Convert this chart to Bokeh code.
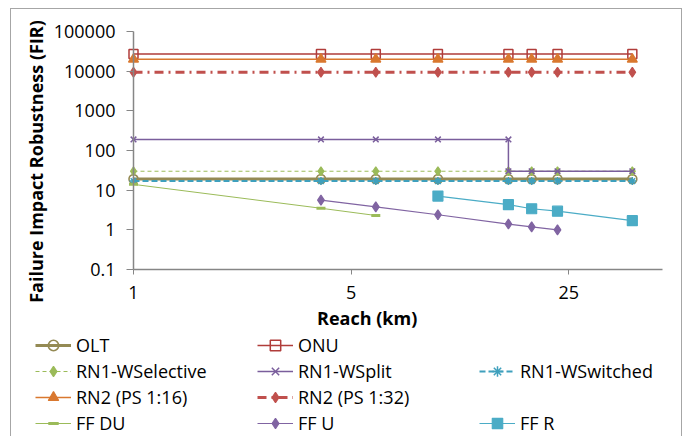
import math
from bokeh.plotting import figure
from bokeh.models import (Range1d, FixedTicker, Legend, LegendItem, Label, ColumnDataSource)
from bokeh.embed import file_html
from bokeh.resources import INLINE

# ---------------- data ----------------
reach = [1, 4, 6, 9.5, 16, 19, 23, 40]
olt = [19] * 8
onu = [27000] * 8
rn1_wselective = [30] * 8
rn1_wsplit_x = [1, 4, 6, 9.5, 16, 16, 19, 23, 40]
rn1_wsplit = [190, 190, 190, 190, 190, 30, 30, 30, 30]
rn1_wswitched = [17] * 8
rn2_ps16 = [20000] * 8
rn2_ps32 = [9400] * 8
ff_du_x = [1, 4, 6]
ff_du = [14, 3.5, 2.3]
ff_u_x = [4, 6, 9.5, 16, 19, 23]
ff_u = [5.6, 3.8, 2.4, 1.4, 1.19, 1.0]
ff_r_x = [9.5, 16, 19, 23, 40]
ff_r = [7.1, 4.3, 3.4, 2.95, 1.7]

x_ticks = [1, 5, 25]
y_ticks = [0.1, 1, 10, 100, 1000, 10000, 100000]
y_tick_labels = ["0.1", "1", "10", "100", "1000", "10000", "100000"]
x_axis_min, x_axis_max = 1, 50
y_axis_min, y_axis_max = 0.1, 100000

FONT = "Open Sans"

# ---- layout geometry (canvas pixels) ----
W, H = 670, 427
PLOT_L, PLOT_R, PLOT_T, PLOT_B = 122, 651, 22, 260
kx = (PLOT_R - PLOT_L) / math.log(x_axis_max / x_axis_min)
ky = (PLOT_B - PLOT_T) / math.log(y_axis_max / y_axis_min)
x_range = Range1d(x_axis_min * math.exp(-PLOT_L / kx), x_axis_min * math.exp((W - PLOT_L) / kx))
y_range = Range1d(y_axis_min * math.exp(-(H - PLOT_B) / ky), y_axis_min * math.exp(PLOT_B / ky))

p = figure(width=W, height=H, frame_width=W, frame_height=H,
           x_axis_type="log", y_axis_type="log",
           x_range=x_range, y_range=y_range,
           output_backend="svg", toolbar_location=None,
           min_border_left=0, min_border_right=0, min_border_top=0, min_border_bottom=0)
p.styles = {"border": "1px solid #a6a6a6", "margin-left": "10px", "margin-top": "8px"}
p.outline_line_color = None
p.grid.visible = False
p.background_fill_color = "white"
p.border_fill_color = "white"

for ax in (p.xaxis[0], p.yaxis[0]):
    ax.axis_line_color = "#868686"
    ax.axis_line_width = 1.5
    ax.major_tick_line_color = "#868686"
    ax.major_tick_line_width = 1
    ax.minor_tick_line_color = None
    ax.major_tick_in = 0
    ax.major_label_text_font = FONT
    ax.major_label_text_font_size = "18px"
    ax.major_label_text_color = "black"

p.xaxis.fixed_location = y_axis_min
p.xaxis.bounds = (x_axis_min, x_axis_max)
p.xaxis.ticker = FixedTicker(ticks=x_ticks, minor_ticks=[])
p.xaxis.major_label_overrides = {t: str(t) for t in x_ticks}
p.xaxis.major_tick_out = 5
p.xaxis.major_label_standoff = 11
p.yaxis.fixed_location = x_axis_min
p.yaxis.bounds = (y_axis_min, y_axis_max)
p.yaxis.ticker = FixedTicker(ticks=y_ticks, minor_ticks=[])
p.yaxis.major_label_overrides = dict(zip(y_ticks, y_tick_labels))
p.yaxis.major_tick_out = 7
p.yaxis.major_label_standoff = 11

def series(x, y, color, width, dash, marker, msize, mfill, mline=1.2):
    src = ColumnDataSource(dict(x=x, y=y))
    r1 = p.line("x", "y", source=src, line_color=color, line_width=width, line_dash=dash)
    r2 = p.scatter("x", "y", source=src, marker=marker, size=msize, line_color=color,
                   fill_color=mfill, line_width=mline)
    return [r1, r2]

items = {}
items["OLT"] = series(reach, olt, "#948a54", 3, "solid", "circle", 9, None, 1.6)
items["ONU"] = series(reach, onu, "#b03c3a", 1.5, "solid", "square", 9, None, 1.5)
items["RN1-WSelective"] = series(reach, rn1_wselective, "#9bbb59", 1, "4 3", "diamond", 9, "#9bbb59")
items["RN1-WSplit"] = series(rn1_wsplit_x, rn1_wsplit, "#7a5e9c", 1.5, "solid", "x", 8, None, 1.5)
items["RN1-WSwitched"] = series(reach, rn1_wswitched, "#3fa0bd", 2, "6 3", "asterisk", 8, None, 1.5)
items["RN2 (PS 1:16)"] = series(reach, rn2_ps16, "#d9782f", 1.5, "solid", "triangle", 10, "#d9782f")
items["RN2 (PS 1:32)"] = series(reach, rn2_ps32, "#c0504d", 3, "9 5 2 5", "diamond", 10, "#c0504d")
items["FF DU"] = series(ff_du_x, ff_du, "#9bbb59", 1, "solid", "dash", 9, "#9bbb59", 3)
items["FF U"] = series(ff_u_x, ff_u, "#8064a2", 1.2, "solid", "diamond", 10, "#8064a2")
items["FF R"] = series(ff_r_x, ff_r, "#4bacc6", 1.2, "solid", "square", 10, "#4bacc6")

# invisible placeholders for the empty legend cells
blank1 = p.line(x=reach[:1], y=olt[:1], line_alpha=0)
blank2 = p.line(x=reach[:1], y=olt[:1], line_alpha=0)

# axis titles (screen units from the canvas bottom-left)
p.add_layout(Label(x=355.7, y=H - 308, x_units="screen", y_units="screen", text="Reach (km)",
                   text_font=FONT, text_font_style="bold", text_font_size="18px",
                   text_align="center", text_baseline="middle", text_color="black"))
p.add_layout(Label(x=24, y=H - 152, x_units="screen", y_units="screen",
                   text="Failure Impact Robustness (FIR)", angle=math.pi / 2,
                   text_font=FONT, text_font_style="bold", text_font_size="18px",
                   text_align="center", text_baseline="middle", text_color="black"))

order = ["OLT", "ONU", None, "RN1-WSelective", "RN1-WSplit", "RN1-WSwitched",
         "RN2 (PS 1:16)", "RN2 (PS 1:32)", None, "FF DU", "FF U", "FF R"]
leg_items = []
bi = iter([blank1, blank2])
for name in order:
    if name is None:
        leg_items.append(LegendItem(label=" ", renderers=[next(bi)]))
    else:
        leg_items.append(LegendItem(label=name, renderers=items[name]))

legend = Legend(items=leg_items, orientation="horizontal", ncols=3,
                location=(24, 0), padding=0, margin=0, spacing=0,
                glyph_width=36, glyph_height=26, label_height=26, label_width=181,
                label_standoff=5, border_line_color=None, background_fill_alpha=0,
                label_text_font=FONT, label_text_font_size="18px", label_text_color="black")
p.add_layout(legend, "center")

open("out.html", "w").write(file_html(p, INLINE))
